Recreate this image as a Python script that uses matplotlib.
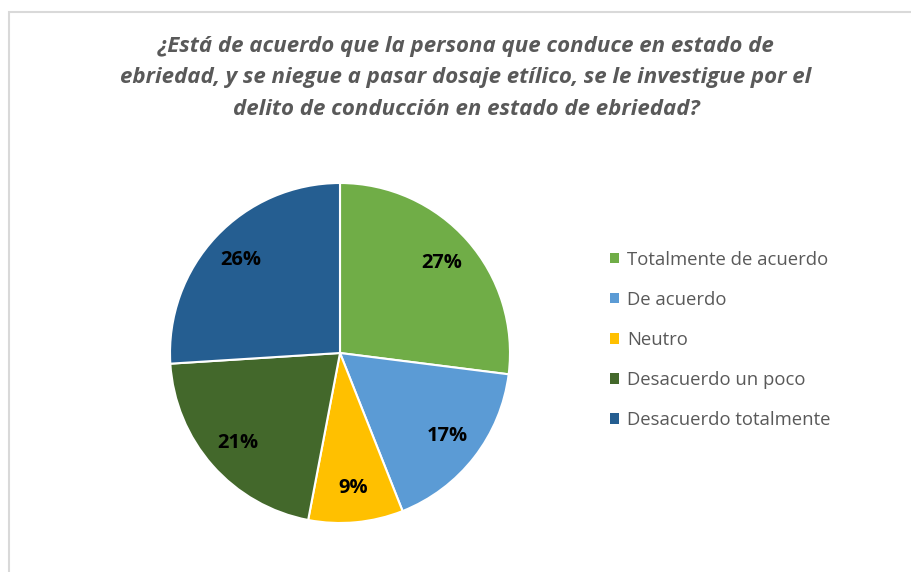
import matplotlib.pyplot as plt
from matplotlib.patches import Rectangle, Patch

# data
categories = ['Totalmente de acuerdo', 'De acuerdo', 'Neutro',
              'Desacuerdo un poco', 'Desacuerdo totalmente']
percentages = [27, 17, 9, 21, 26]
colors = ['#70AD47', '#5B9BD5', '#FFC000', '#43682B', '#255E91']
title = ('¿Está de acuerdo que la persona que conduce en estado de\n'
         'ebriedad, y se niegue a pasar dosaje etílico, se le investigue por el\n'
         'delito de conducción en estado de ebriedad?')

W, H = 911, 572
fig = plt.figure(figsize=(W / 100, H / 100), dpi=100)

# chart frame (cropped on right and bottom)
fig.patches.append(Rectangle((9 / W, -0.1), 1.2, 1 - 12 / H + 0.1,
                             transform=fig.transFigure, fill=False,
                             edgecolor='#D9D9D9', linewidth=1.5))

fig.text(466 / W, 1 - 78 / H, title, ha='center', va='center',
         fontsize=16, fontstyle='italic', fontweight='bold',
         color='#595959', family='Open Sans', linespacing=1.68)

# pie axes: center (340, 353), radius 170 px
cx, cy, r = 340, 353, 170
ax = fig.add_axes([(cx - r) / W, 1 - (cy + r) / H, 2 * r / W, 2 * r / H])
wedges, texts, autotexts = ax.pie(
    percentages, colors=colors, startangle=90, counterclock=False,
    autopct='%d%%', pctdistance=0.8, radius=1,
    wedgeprops=dict(edgecolor='white', linewidth=1.5),
    textprops=dict(fontsize=14.5, fontweight='bold', color='black',
                   family='Open Sans'))
ax.set_xlim(-1, 1)
ax.set_ylim(-1, 1)
ax.set_aspect('equal')

handles = [Patch(facecolor=c, edgecolor='none') for c in colors]
leg = fig.legend(handles, categories, loc='upper left',
                 bbox_to_anchor=(593 / W, 1 - 234 / H),
                 frameon=False, handlelength=0.5, handleheight=0.5,
                 handletextpad=0.45, labelspacing=1.2,
                 prop=dict(family='Open Sans', size=13.3))
for t in leg.get_texts():
    t.set_color('#595959')

fig.savefig('out.png', dpi=100, facecolor='white')
